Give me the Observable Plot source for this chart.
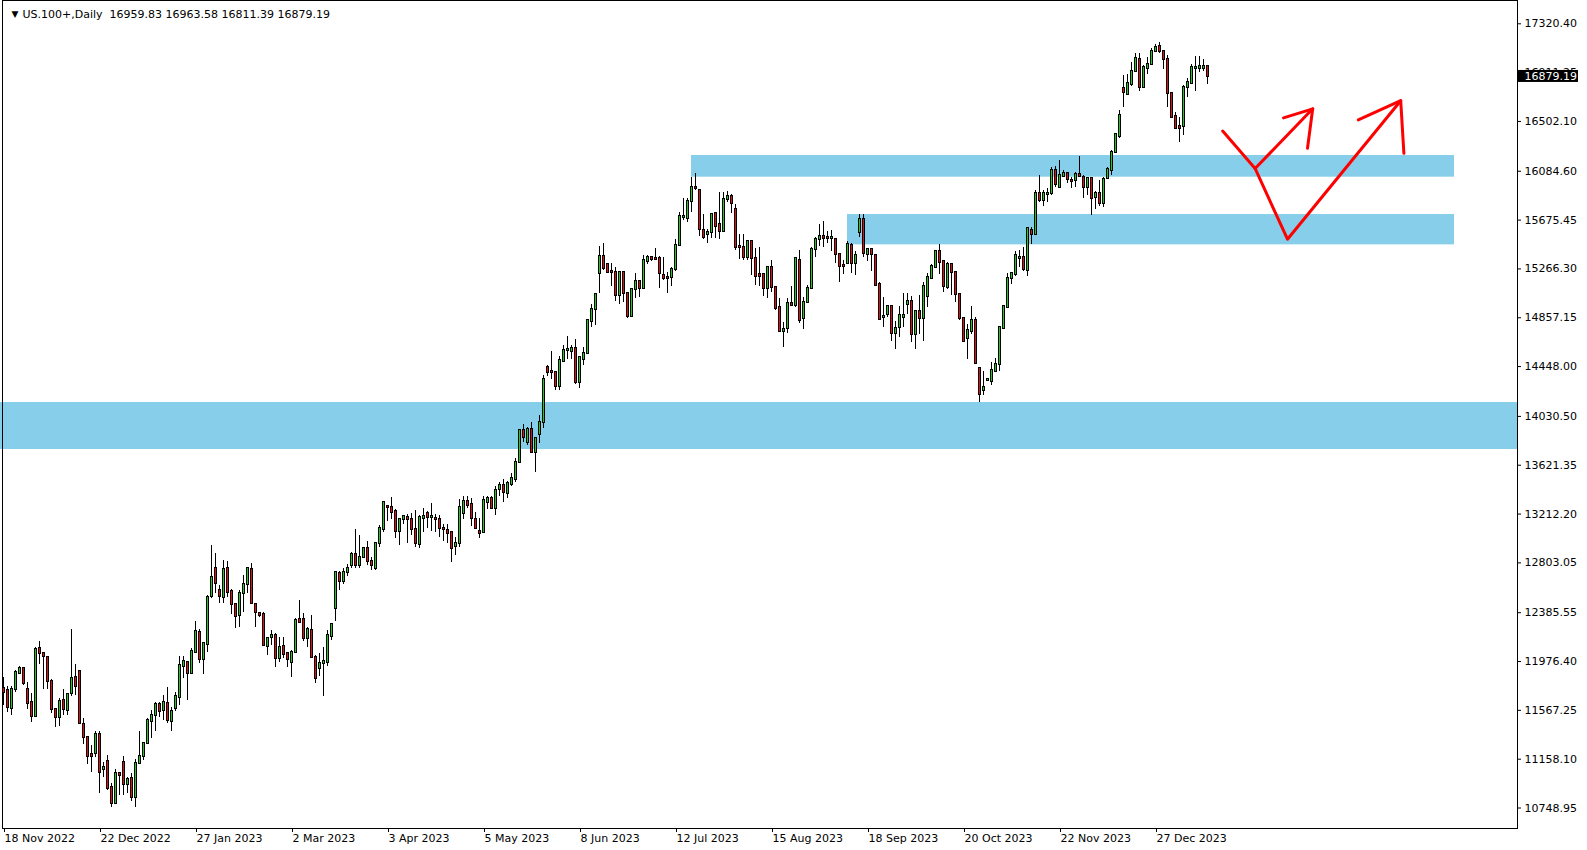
<!DOCTYPE html>
<html><head><meta charset="utf-8">
<script src="https://cdn.jsdelivr.net/npm/d3@7"></script>
<script src="https://cdn.jsdelivr.net/npm/@observablehq/plot@0.6"></script>
<style>
html,body{margin:0;padding:0;background:#fff;}
svg{display:block}
</style></head><body><div id="chart"></div>
<script>
const symbol = "US.100+,Daily";
const opens = [11748,11734,11586,11745,11879,11915,11739,11630,11519,12083,
12041,12010,11812,11572,11505,11650,11566,11706,11840,11893,
11449,11337,11194,11208,11362,11069,11139,10921,10790,11035,
11127,10943,10993,10840,11125,11183,11287,11477,11524,11616,
11566,11622,11470,11580,11678,11937,11971,11879,12049,12217,
11991,12116,12521,12753,12572,12516,12753,12563,12451,12359,
12549,12619,12745,12454,12376,12370,12105,12181,12192,12005,
12100,12041,11971,12049,12326,12326,12172,12236,12010,11915,
11957,11971,12189,12418,12717,12650,12720,12781,12870,12781,
12845,12921,12815,12760,12963,13080,13276,13264,13234,13066,
13164,13181,13164,13080,12954,13178,13214,13186,13172,13164,
13088,13072,13055,12943,12968,13214,13320,13290,13164,13066,
13061,13312,13340,13256,13415,13451,13382,13463,13499,13642,
13912,13815,13918,13731,13876,13977,14438,14407,14396,14284,
14493,14583,14577,14597,14318,14505,14560,14826,14924,15225,
15370,15301,15245,15239,15044,15234,15058,14871,15091,15161,
15105,15331,15359,15351,15351,15211,15195,15195,15259,15463,
15700,15686,15831,15946,15924,15586,15552,15569,15728,15636,
15580,15845,15873,15764,15454,15446,15365,15496,15351,15220,
15220,15105,15281,15108,14940,14745,14764,14974,14960,15337,
14848,14988,15100,15426,15510,15538,15527,15518,15510,15387,
15295,15309,15465,15309,15569,15680,15384,15429,15379,15133,
14857,14882,14952,14722,14778,14862,14966,14993,14714,14910,
14854,15038,15189,15281,15412,15329,15114,15303,15234,15052,
14848,14681,14745,14834,14429,14248,14329,14323,14407,14463,
14764,14946,15183,15217,15356,15359,15253,15588,15555,15901,
15840,15890,15896,16091,15951,16041,16063,16007,16007,16055,
16035,15951,16021,15862,15896,15812,16021,16091,16239,16379,
16776,16728,16809,16921,17021,16789,16943,16979,17088,17130,
17088,17021,16734,16541,16460,16463,16784,16823,16949,16949,
16949,16959.83];
const highs = [11845,11767,11767,11901,11935,11929,11803,11706,12091,12144,
12055,12018,11823,11586,11664,11739,11711,12245,11951,11901,
11496,11343,11273,11393,11393,11133,11186,10952,11069,11044,
11183,11007,11035,11155,11390,11301,11496,11566,11636,11633,
11689,11762,11590,11714,12018,12018,11980,12083,12315,12245,
12130,12530,12949,12879,12613,12823,12815,12577,12460,12572,
12697,12767,12795,12460,12390,12390,12181,12240,12214,12175,
12175,12055,12069,12334,12488,12382,12264,12362,12027,12041,
12097,12236,12292,12734,12734,12760,12790,12893,13083,13033,
12935,12982,12845,12968,13116,13317,13284,13354,13250,13178,
13194,13206,13214,13242,13200,13256,13234,13298,13206,13200,
13122,13125,13061,13019,13334,13362,13359,13340,13228,13178,
13359,13362,13362,13446,13479,13499,13485,13555,13675,13918,
13960,13940,13977,13843,14038,14373,14457,14574,14401,14533,
14625,14700,14625,14675,14535,14611,14840,14968,15063,15454,
15482,15315,15315,15281,15240,15239,15072,15100,15225,15169,
15379,15379,15373,15435,15373,15359,15239,15276,15513,15742,
15854,15854,16035,16063,15930,15720,15594,15728,15742,15904,
15910,15915,15887,15803,15552,15552,15496,15500,15440,15443,
15222,15287,15337,15110,15016,14820,15016,15119,15359,15421,
15024,15128,15443,15527,15639,15667,15583,15588,15518,15398,
15337,15499,15477,15415,15722,15722,15440,15440,15384,15155,
15030,14960,14955,14826,14952,15058,15058,15035,14912,15044,
15155,15225,15301,15421,15468,15337,15323,15309,15239,15058,
14854,14798,14954,14862,14435,14407,14351,14485,14513,14776,
14960,15225,15239,15412,15421,15449,15610,15611,15924,16049,
15924,15943,16119,16125,16175,16091,16072,16035,16072,16208,
16049,16030,16035,15918,16007,16035,16119,16259,16398,16594,
16887,16893,16999,17069,17069,16971,17041,17116,17144,17167,
17097,17055,16742,16574,16538,16803,16865,16977,17049,17049,
17021,16963.58];
const lows = [11608,11552,11524,11720,11868,11775,11574,11468,11510,11951,
11745,11745,11538,11426,11435,11527,11524,11683,11689,11450,
11278,11113,11049,11175,10873,11007,10896,10756,10776,10854,
10854,10868,10806,10756,11113,11147,11281,11329,11393,11505,
11482,11454,11390,11560,11608,11837,11650,11873,12046,11963,
11868,12055,12502,12549,12460,12460,12516,12370,12250,12264,
12390,12544,12460,12264,12343,12102,12027,12110,11924,11971,
11999,11929,11840,12041,12298,12144,12097,12008,11795,11851,
11686,11935,12150,12315,12572,12620,12690,12760,12760,12760,
12837,12781,12740,12740,12935,13061,13150,13167,13005,12949,
13122,12968,13033,12935,12926,13061,13088,13066,13061,13019,
12982,12968,12803,12865,12935,13167,13256,13111,13083,13005,
13055,13250,13250,13200,13362,13312,13345,13443,13474,13633,
13815,13787,13717,13563,13801,13926,14368,14340,14248,14248,
14491,14505,14505,14298,14262,14457,14549,14778,14792,15063,
15253,15225,15119,14996,14968,14988,14854,14862,15021,15030,
15100,15303,15331,15337,15105,15169,15063,15122,15245,15457,
15672,15658,15736,15924,15538,15513,15482,15519,15519,15513,
15574,15826,15728,15421,15345,15337,15337,15211,15128,15119,
15035,15021,15072,14918,14736,14611,14722,14960,14946,14806,
14756,14974,15091,15359,15454,15449,15477,15415,15309,15155,
15220,15303,15225,15211,15533,15359,15329,15248,15119,14834,
14778,14862,14658,14588,14695,14778,14882,14653,14588,14714,
14658,14946,15178,15273,15217,15066,15094,15044,14988,14837,
14653,14507,14714,14463,14144,14206,14323,14290,14405,14407,
14756,14938,15136,15206,15281,15245,15203,15468,15546,15826,
15789,15826,15882,15951,15943,16030,15979,15937,15946,16030,
15854,15882,15714,15762,15789,15784,16013,16049,16230,16362,
16622,16720,16798,16910,16753,16781,16893,16976,17077,17069,
16935,16622,16530,16440,16329,16384,16706,16817,16753,16915,
16921,16811.39];
const closes = [11720,11594,11739,11884,11915,11789,11627,11519,12074,12041,
12018,11812,11572,11505,11644,11572,11697,11831,11767,11454,
11343,11183,11183,11362,11049,11086,10915,10784,11035,11024,
10943,10988,10840,11119,11183,11287,11482,11524,11613,11560,
11633,11482,11560,11686,11943,11977,11873,12060,12228,11991,
12125,12510,12678,12627,12521,12745,12558,12451,12354,12549,
12622,12753,12465,12390,12365,12111,12167,12192,11999,12097,
12035,11991,12055,12320,12306,12172,12245,12013,11837,11957,
11977,12192,12284,12725,12650,12720,12760,12870,12781,12845,
12921,12817,12781,12963,13088,13306,13264,13228,13066,13164,
13189,13164,13080,12963,13181,13192,13181,13192,13169,13088,
13085,13052,12921,12963,13264,13320,13284,13172,13088,13047,
13323,13340,13262,13407,13451,13396,13465,13507,13641,13912,
13857,13918,13731,13843,13982,14337,14401,14401,14284,14499,
14583,14588,14597,14318,14527,14560,14834,14924,15049,15370,
15273,15239,15239,15044,15234,15058,14871,15091,15161,15105,
15337,15359,15345,15342,15225,15183,15189,15259,15463,15706,
15706,15831,15946,15937,15594,15533,15569,15720,15625,15583,
15848,15873,15812,15449,15449,15359,15496,15351,15203,15203,
15100,15281,15108,14938,14745,14759,14974,14960,15351,14834,
14982,15100,15429,15513,15538,15518,15518,15527,15384,15287,
15287,15471,15309,15379,15680,15393,15429,15384,15128,14843,
14868,14952,14722,14770,14876,14876,14993,14714,14910,14854,
15119,15194,15287,15412,15323,15122,15301,15239,15055,14848,
14658,14750,14834,14471,14211,14270,14340,14415,14466,14773,
14952,15189,15225,15379,15365,15259,15602,15552,15896,15840,
15901,15901,16091,15971,16049,16063,16013,16002,16055,16041,
15951,16021,15854,15896,15812,16013,16097,16239,16390,16552,
16742,16817,16921,17027,16789,16951,16977,17088,17125,17088,
17018,16734,16538,16446,16446,16789,16826,16951,16957,16965,
16965,16879.19];

const timeTickBars = [0,24,48,72,96,120,144,168,192,216,240,264,288];
const timeTickLabels = ["18 Nov 2022","22 Dec 2022","27 Jan 2023","2 Mar 2023","3 Apr 2023","5 May 2023","8 Jun 2023","12 Jul 2023","15 Aug 2023","18 Sep 2023","20 Oct 2023","22 Nov 2023","27 Dec 2023"];
const priceTicks = [17320.40,16911.25,16502.10,16084.60,15675.45,15266.30,14857.15,14448.00,14030.50,13621.35,13212.20,12803.05,12385.55,11976.40,11567.25,11158.10,10748.95];

// support / resistance zones (bar index from/to, price top/bottom)
const zoneFrom = [-0.75, 172, 211];
const zoneTo = [378.5, 362.75, 362.75];
const zoneTop = [14147, 16217, 15722];
const zoneBottom = [13753, 16035, 15468];

// hand-drawn red arrows (segment id, bar index, price)
const arrowSeg = ["a","a","a","ah","ah","ah","b","b","b","bh","bh","bh"];
const arrowBar = [304.8,312.9,327.3, 320.0,327.3,326.0, 312.9,321.0,349.3, 338.7,349.3,350.1];
const arrowPrice = [16422,16108,16608, 16532,16608,16278, 16108,15515,16676, 16515,16676,16235];

const upColor = "#1ecc1e", downColor = "#e01010", zoneColor = "#87ceeb";

const candles = opens.map((o, i) => ({i, o, h: highs[i], l: lows[i], c: closes[i]}));
const zones = zoneFrom.map((f, k) => ({f, t: zoneTo[k], top: zoneTop[k], bot: zoneBottom[k]}));
const arrows = arrowSeg.map((s, k) => ({s, x: arrowBar[k], y: arrowPrice[k]}));
const labelByBar = new Map(timeTickBars.map((b, k) => [b, timeTickLabels[k]]));
const last = candles[candles.length - 1];
const header = symbol + "\u00a0\u00a0" + [last.o, last.h, last.l, last.c].map(v => v.toFixed(2)).join(" ");
const axisEndBar = 378.5, boxEndBar = 393.75;

const plot = Plot.plot({
  width: 1587, height: 850,
  marginLeft: 2, marginRight: 70, marginTop: 0, marginBottom: 22,
  style: {fontFamily: "'DejaVu Sans', sans-serif", fontSize: "11px", color: "#000", background: "#fff", overflow: "visible"},
  x: {type: "linear", domain: [0, 301], range: [3, 1207], axis: null},
  y: {domain: [10748.95, 17320.40], range: [807.5, 23.3], axis: null},
  marks: [
    Plot.rect(zones, {x1: "f", x2: "t", y1: "bot", y2: "top", fill: zoneColor}),
    Plot.ruleX(candles, {x: "i", y1: d => Math.min(d.l, d.o, d.c), y2: d => Math.max(d.h, d.o, d.c), stroke: "#000", strokeWidth: 1, shapeRendering: "crispEdges"}),
    Plot.rect(candles, {
      x1: d => d.i - 0.25, x2: d => d.i + 0.25,
      y1: d => Math.min(d.o, d.c), y2: d => Math.max(d.o, d.c),
      insetTop: -0.5, insetBottom: -0.5,
      fill: d => d.c > d.o ? upColor : d.c < d.o ? downColor : "#000",
      stroke: "#000", strokeWidth: 1, shapeRendering: "crispEdges"
    }),
    Plot.line(arrows, {x: "x", y: "y", z: "s", stroke: "#ff0000", strokeWidth: 3, strokeLinecap: "round", strokeLinejoin: "round"}),
    Plot.frame({stroke: "#000", shapeRendering: "crispEdges"}),
    Plot.axisY(priceTicks, {anchor: "right", tickFormat: d => d.toFixed(2), tickSize: 3, tickPadding: 4, label: null, fontSize: 11}),
    Plot.axisX(timeTickBars, {anchor: "bottom", tickFormat: d => labelByBar.get(d), tickSize: 4, tickPadding: 2, textAnchor: "start", dx: 1, label: null, fontSize: 11}),
    Plot.rect([last], {x1: axisEndBar, x2: boxEndBar, y1: "c", y2: "c", insetTop: -6, insetBottom: -6, fill: "#000"}),
    Plot.text([last], {x: axisEndBar, y: "c", text: d => d.c.toFixed(2), textAnchor: "start", dx: 7, fill: "#fff", fontSize: 11}),
    Plot.text(["\u25bc"], {frameAnchor: "top-left", dx: 9, dy: 10, fontSize: 9, fill: "#000"}),
    Plot.text([header], {frameAnchor: "top-left", dx: 20, dy: 10, textAnchor: "start", fontSize: 11, fill: "#000"})
  ]
});
document.getElementById("chart").appendChild(plot);
</script>
</body></html>
